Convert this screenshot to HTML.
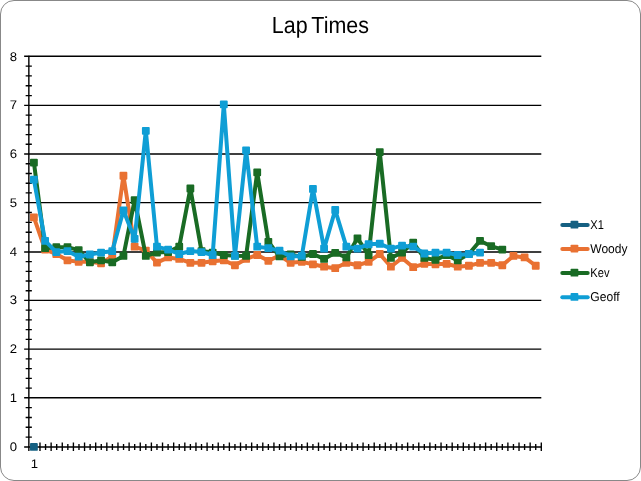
<!DOCTYPE html>
<html lang="en"><head><meta charset="utf-8"><title>Lap Times</title>
<style>html,body{margin:0;padding:0;background:#fff}body{width:641px;height:481px;overflow:hidden}svg{display:block}text{font-family:"Liberation Sans",sans-serif;fill:#000;text-rendering:geometricPrecision}</style>
</head><body>
<svg width="641" height="481" viewBox="0 0 641 481">
<rect x="0" y="0" width="641" height="481" fill="#fff"/>
<rect x="0.5" y="0.5" width="640" height="480" rx="13.5" ry="13.5" fill="#fff" stroke="#888888" stroke-width="1"/>
<text transform="translate(320.4 33) scale(0.9206 1)" font-size="23.3" text-anchor="middle" word-spacing="-2">Lap Times</text>
<path d="M24.15 446.95H541.30M24.15 397.80H541.30M24.15 349.10H541.30M24.15 300.41H541.30M24.15 251.97H541.30M24.15 202.66H541.30M24.15 154.00H541.30M24.15 105.40H541.30M24.15 56.30H541.30" stroke="#000" stroke-width="1.36" fill="none"/>
<path d="M28.85 55.70V450.95" stroke="#000" stroke-width="1.4" fill="none"/>
<path d="M25.65 437.12H31.85M25.65 427.29H31.85M25.65 417.46H31.85M25.65 407.63H31.85M25.65 388.06H31.85M25.65 378.32H31.85M25.65 368.58H31.85M25.65 358.84H31.85M25.65 339.36H31.85M25.65 329.62H31.85M25.65 319.89H31.85M25.65 310.15H31.85M25.65 290.72H31.85M25.65 281.03H31.85M25.65 271.35H31.85M25.65 261.66H31.85M25.65 242.11H31.85M25.65 232.25H31.85M25.65 222.38H31.85M25.65 212.52H31.85M25.65 192.93H31.85M25.65 183.20H31.85M25.65 173.46H31.85M25.65 163.73H31.85M25.65 144.28H31.85M25.65 134.56H31.85M25.65 124.84H31.85M25.65 115.12H31.85M25.65 95.58H31.85M25.65 85.76H31.85M25.65 75.94H31.85M25.65 66.12H31.85" stroke="#000" stroke-width="1.36" fill="none"/>
<path d="M39.99 442.55V450.95M34.42 443.95V449.95M51.13 442.55V450.95M45.56 443.95V449.95M62.27 442.55V450.95M56.70 443.95V449.95M73.41 442.55V450.95M67.84 443.95V449.95M84.55 442.55V450.95M78.98 443.95V449.95M95.69 442.55V450.95M90.12 443.95V449.95M106.83 442.55V450.95M101.26 443.95V449.95M117.97 442.55V450.95M112.40 443.95V449.95M129.11 442.55V450.95M123.54 443.95V449.95M140.25 442.55V450.95M134.68 443.95V449.95M151.39 442.55V450.95M145.82 443.95V449.95M162.53 442.55V450.95M156.96 443.95V449.95M173.67 442.55V450.95M168.10 443.95V449.95M184.81 442.55V450.95M179.24 443.95V449.95M195.95 442.55V450.95M190.38 443.95V449.95M207.09 442.55V450.95M201.52 443.95V449.95M218.23 442.55V450.95M212.66 443.95V449.95M229.37 442.55V450.95M223.80 443.95V449.95M240.51 442.55V450.95M234.94 443.95V449.95M251.65 442.55V450.95M246.08 443.95V449.95M262.79 442.55V450.95M257.22 443.95V449.95M273.93 442.55V450.95M268.36 443.95V449.95M285.07 442.55V450.95M279.50 443.95V449.95M296.22 442.55V450.95M290.65 443.95V449.95M307.36 442.55V450.95M301.79 443.95V449.95M318.50 442.55V450.95M312.93 443.95V449.95M329.64 442.55V450.95M324.07 443.95V449.95M340.78 442.55V450.95M335.21 443.95V449.95M351.92 442.55V450.95M346.35 443.95V449.95M363.06 442.55V450.95M357.49 443.95V449.95M374.20 442.55V450.95M368.63 443.95V449.95M385.34 442.55V450.95M379.77 443.95V449.95M396.48 442.55V450.95M390.91 443.95V449.95M407.62 442.55V450.95M402.05 443.95V449.95M418.76 442.55V450.95M413.19 443.95V449.95M429.90 442.55V450.95M424.33 443.95V449.95M441.04 442.55V450.95M435.47 443.95V449.95M452.18 442.55V450.95M446.61 443.95V449.95M463.32 442.55V450.95M457.75 443.95V449.95M474.46 442.55V450.95M468.89 443.95V449.95M485.60 442.55V450.95M480.03 443.95V449.95M496.74 442.55V450.95M491.17 443.95V449.95M507.88 442.55V450.95M502.31 443.95V449.95M519.02 442.55V450.95M513.45 443.95V449.95M530.16 442.55V450.95M524.59 443.95V449.95M541.30 442.55V450.95M535.73 443.95V449.95" stroke="#000" stroke-width="1.36" fill="none"/>
<text transform="translate(13.35 451.35) scale(1.0500 1)" font-size="12.50" text-anchor="middle">0</text>
<text transform="translate(13.35 401.70) scale(1.0500 1)" font-size="12.50" text-anchor="middle">1</text>
<text transform="translate(13.35 353.00) scale(1.0500 1)" font-size="12.50" text-anchor="middle">2</text>
<text transform="translate(13.35 304.31) scale(1.0500 1)" font-size="12.50" text-anchor="middle">3</text>
<text transform="translate(13.35 255.67) scale(1.0500 1)" font-size="12.50" text-anchor="middle">4</text>
<text transform="translate(13.35 206.56) scale(1.0500 1)" font-size="12.50" text-anchor="middle">5</text>
<text transform="translate(13.35 157.90) scale(1.0500 1)" font-size="12.50" text-anchor="middle">6</text>
<text transform="translate(13.35 109.30) scale(1.0500 1)" font-size="12.50" text-anchor="middle">7</text>
<text transform="translate(13.35 60.70) scale(1.0500 1)" font-size="12.50" text-anchor="middle">8</text>
<text transform="translate(34.30 468.10) scale(1.0500 1)" font-size="12.50" text-anchor="middle">1</text>
<path d="M30.92 443.02h6.00q0.90 0 0.90 0.90v6.00q0 0.90 -0.90 0.90h-6.00q-0.90 0 -0.90 -0.90v-6.00q0 -0.90 0.90 -0.90z" fill="#156082"/>
<polyline points="33.92,217.33 45.11,249.61 56.30,254.01 67.49,260.36 78.68,261.83 89.87,261.83 101.06,263.30 112.25,256.45 123.44,175.77 134.63,246.67 145.82,250.58 156.96,262.56 168.10,257.43 179.24,258.90 190.38,262.81 201.52,262.81 212.66,261.34 223.80,260.36 234.94,265.25 246.08,258.90 257.22,254.98 268.36,260.85 279.50,255.47 290.65,262.81 301.79,261.83 312.93,264.28 324.07,266.72 335.21,268.19 346.35,262.81 357.49,265.25 368.63,261.83 379.77,254.01 390.91,266.72 402.05,257.92 413.19,267.21 424.33,263.79 435.47,264.28 446.61,263.79 457.75,266.72 468.89,265.74 480.03,262.81 491.17,262.81 502.31,265.25 513.45,255.96 524.59,257.43 535.73,265.74" fill="none" stroke="#E97132" stroke-width="4.00" stroke-linejoin="round" stroke-linecap="round"/>
<path d="M30.92 213.43h6.00q0.90 0 0.90 0.90v6.00q0 0.90 -0.90 0.90h-6.00q-0.90 0 -0.90 -0.90v-6.00q0 -0.90 0.90 -0.90zM42.11 245.71h6.00q0.90 0 0.90 0.90v6.00q0 0.90 -0.90 0.90h-6.00q-0.90 0 -0.90 -0.90v-6.00q0 -0.90 0.90 -0.90zM53.30 250.11h6.00q0.90 0 0.90 0.90v6.00q0 0.90 -0.90 0.90h-6.00q-0.90 0 -0.90 -0.90v-6.00q0 -0.90 0.90 -0.90zM64.49 256.46h6.00q0.90 0 0.90 0.90v6.00q0 0.90 -0.90 0.90h-6.00q-0.90 0 -0.90 -0.90v-6.00q0 -0.90 0.90 -0.90zM75.68 257.93h6.00q0.90 0 0.90 0.90v6.00q0 0.90 -0.90 0.90h-6.00q-0.90 0 -0.90 -0.90v-6.00q0 -0.90 0.90 -0.90zM86.87 257.93h6.00q0.90 0 0.90 0.90v6.00q0 0.90 -0.90 0.90h-6.00q-0.90 0 -0.90 -0.90v-6.00q0 -0.90 0.90 -0.90zM98.06 259.40h6.00q0.90 0 0.90 0.90v6.00q0 0.90 -0.90 0.90h-6.00q-0.90 0 -0.90 -0.90v-6.00q0 -0.90 0.90 -0.90zM109.25 252.55h6.00q0.90 0 0.90 0.90v6.00q0 0.90 -0.90 0.90h-6.00q-0.90 0 -0.90 -0.90v-6.00q0 -0.90 0.90 -0.90zM120.44 171.87h6.00q0.90 0 0.90 0.90v6.00q0 0.90 -0.90 0.90h-6.00q-0.90 0 -0.90 -0.90v-6.00q0 -0.90 0.90 -0.90zM131.63 242.77h6.00q0.90 0 0.90 0.90v6.00q0 0.90 -0.90 0.90h-6.00q-0.90 0 -0.90 -0.90v-6.00q0 -0.90 0.90 -0.90zM142.82 246.68h6.00q0.90 0 0.90 0.90v6.00q0 0.90 -0.90 0.90h-6.00q-0.90 0 -0.90 -0.90v-6.00q0 -0.90 0.90 -0.90zM153.96 258.66h6.00q0.90 0 0.90 0.90v6.00q0 0.90 -0.90 0.90h-6.00q-0.90 0 -0.90 -0.90v-6.00q0 -0.90 0.90 -0.90zM165.10 253.53h6.00q0.90 0 0.90 0.90v6.00q0 0.90 -0.90 0.90h-6.00q-0.90 0 -0.90 -0.90v-6.00q0 -0.90 0.90 -0.90zM176.24 255.00h6.00q0.90 0 0.90 0.90v6.00q0 0.90 -0.90 0.90h-6.00q-0.90 0 -0.90 -0.90v-6.00q0 -0.90 0.90 -0.90zM187.38 258.91h6.00q0.90 0 0.90 0.90v6.00q0 0.90 -0.90 0.90h-6.00q-0.90 0 -0.90 -0.90v-6.00q0 -0.90 0.90 -0.90zM198.52 258.91h6.00q0.90 0 0.90 0.90v6.00q0 0.90 -0.90 0.90h-6.00q-0.90 0 -0.90 -0.90v-6.00q0 -0.90 0.90 -0.90zM209.66 257.44h6.00q0.90 0 0.90 0.90v6.00q0 0.90 -0.90 0.90h-6.00q-0.90 0 -0.90 -0.90v-6.00q0 -0.90 0.90 -0.90zM220.80 256.46h6.00q0.90 0 0.90 0.90v6.00q0 0.90 -0.90 0.90h-6.00q-0.90 0 -0.90 -0.90v-6.00q0 -0.90 0.90 -0.90zM231.94 261.35h6.00q0.90 0 0.90 0.90v6.00q0 0.90 -0.90 0.90h-6.00q-0.90 0 -0.90 -0.90v-6.00q0 -0.90 0.90 -0.90zM243.08 255.00h6.00q0.90 0 0.90 0.90v6.00q0 0.90 -0.90 0.90h-6.00q-0.90 0 -0.90 -0.90v-6.00q0 -0.90 0.90 -0.90zM254.22 251.08h6.00q0.90 0 0.90 0.90v6.00q0 0.90 -0.90 0.90h-6.00q-0.90 0 -0.90 -0.90v-6.00q0 -0.90 0.90 -0.90zM265.36 256.95h6.00q0.90 0 0.90 0.90v6.00q0 0.90 -0.90 0.90h-6.00q-0.90 0 -0.90 -0.90v-6.00q0 -0.90 0.90 -0.90zM276.50 251.57h6.00q0.90 0 0.90 0.90v6.00q0 0.90 -0.90 0.90h-6.00q-0.90 0 -0.90 -0.90v-6.00q0 -0.90 0.90 -0.90zM287.65 258.91h6.00q0.90 0 0.90 0.90v6.00q0 0.90 -0.90 0.90h-6.00q-0.90 0 -0.90 -0.90v-6.00q0 -0.90 0.90 -0.90zM298.79 257.93h6.00q0.90 0 0.90 0.90v6.00q0 0.90 -0.90 0.90h-6.00q-0.90 0 -0.90 -0.90v-6.00q0 -0.90 0.90 -0.90zM309.93 260.38h6.00q0.90 0 0.90 0.90v6.00q0 0.90 -0.90 0.90h-6.00q-0.90 0 -0.90 -0.90v-6.00q0 -0.90 0.90 -0.90zM321.07 262.82h6.00q0.90 0 0.90 0.90v6.00q0 0.90 -0.90 0.90h-6.00q-0.90 0 -0.90 -0.90v-6.00q0 -0.90 0.90 -0.90zM332.21 264.29h6.00q0.90 0 0.90 0.90v6.00q0 0.90 -0.90 0.90h-6.00q-0.90 0 -0.90 -0.90v-6.00q0 -0.90 0.90 -0.90zM343.35 258.91h6.00q0.90 0 0.90 0.90v6.00q0 0.90 -0.90 0.90h-6.00q-0.90 0 -0.90 -0.90v-6.00q0 -0.90 0.90 -0.90zM354.49 261.35h6.00q0.90 0 0.90 0.90v6.00q0 0.90 -0.90 0.90h-6.00q-0.90 0 -0.90 -0.90v-6.00q0 -0.90 0.90 -0.90zM365.63 257.93h6.00q0.90 0 0.90 0.90v6.00q0 0.90 -0.90 0.90h-6.00q-0.90 0 -0.90 -0.90v-6.00q0 -0.90 0.90 -0.90zM376.77 250.11h6.00q0.90 0 0.90 0.90v6.00q0 0.90 -0.90 0.90h-6.00q-0.90 0 -0.90 -0.90v-6.00q0 -0.90 0.90 -0.90zM387.91 262.82h6.00q0.90 0 0.90 0.90v6.00q0 0.90 -0.90 0.90h-6.00q-0.90 0 -0.90 -0.90v-6.00q0 -0.90 0.90 -0.90zM399.05 254.02h6.00q0.90 0 0.90 0.90v6.00q0 0.90 -0.90 0.90h-6.00q-0.90 0 -0.90 -0.90v-6.00q0 -0.90 0.90 -0.90zM410.19 263.31h6.00q0.90 0 0.90 0.90v6.00q0 0.90 -0.90 0.90h-6.00q-0.90 0 -0.90 -0.90v-6.00q0 -0.90 0.90 -0.90zM421.33 259.89h6.00q0.90 0 0.90 0.90v6.00q0 0.90 -0.90 0.90h-6.00q-0.90 0 -0.90 -0.90v-6.00q0 -0.90 0.90 -0.90zM432.47 260.38h6.00q0.90 0 0.90 0.90v6.00q0 0.90 -0.90 0.90h-6.00q-0.90 0 -0.90 -0.90v-6.00q0 -0.90 0.90 -0.90zM443.61 259.89h6.00q0.90 0 0.90 0.90v6.00q0 0.90 -0.90 0.90h-6.00q-0.90 0 -0.90 -0.90v-6.00q0 -0.90 0.90 -0.90zM454.75 262.82h6.00q0.90 0 0.90 0.90v6.00q0 0.90 -0.90 0.90h-6.00q-0.90 0 -0.90 -0.90v-6.00q0 -0.90 0.90 -0.90zM465.89 261.84h6.00q0.90 0 0.90 0.90v6.00q0 0.90 -0.90 0.90h-6.00q-0.90 0 -0.90 -0.90v-6.00q0 -0.90 0.90 -0.90zM477.03 258.91h6.00q0.90 0 0.90 0.90v6.00q0 0.90 -0.90 0.90h-6.00q-0.90 0 -0.90 -0.90v-6.00q0 -0.90 0.90 -0.90zM488.17 258.91h6.00q0.90 0 0.90 0.90v6.00q0 0.90 -0.90 0.90h-6.00q-0.90 0 -0.90 -0.90v-6.00q0 -0.90 0.90 -0.90zM499.31 261.35h6.00q0.90 0 0.90 0.90v6.00q0 0.90 -0.90 0.90h-6.00q-0.90 0 -0.90 -0.90v-6.00q0 -0.90 0.90 -0.90zM510.45 252.06h6.00q0.90 0 0.90 0.90v6.00q0 0.90 -0.90 0.90h-6.00q-0.90 0 -0.90 -0.90v-6.00q0 -0.90 0.90 -0.90zM521.59 253.53h6.00q0.90 0 0.90 0.90v6.00q0 0.90 -0.90 0.90h-6.00q-0.90 0 -0.90 -0.90v-6.00q0 -0.90 0.90 -0.90zM532.73 261.84h6.00q0.90 0 0.90 0.90v6.00q0 0.90 -0.90 0.90h-6.00q-0.90 0 -0.90 -0.90v-6.00q0 -0.90 0.90 -0.90z" fill="#E97132"/>
<polyline points="33.92,162.56 45.11,248.14 56.30,247.16 67.49,247.16 78.68,250.09 89.87,262.32 101.06,260.36 112.25,262.32 123.44,255.96 134.63,200.22 145.82,255.96 156.96,252.54 168.10,252.05 179.24,246.67 190.38,188.48 201.52,251.07 212.66,252.54 223.80,254.98 234.94,255.72 246.08,255.96 257.22,172.34 268.36,241.78 279.50,256.45 290.65,254.50 301.79,256.94 312.93,254.01 324.07,258.90 335.21,252.78 346.35,257.43 357.49,238.36 368.63,254.98 379.77,152.05 390.91,257.92 402.05,252.54 413.19,242.76 424.33,257.92 435.47,259.87 446.61,254.98 457.75,260.36 468.89,254.01 480.03,240.80 491.17,246.18 502.31,249.61" fill="none" stroke="#196B24" stroke-width="4.00" stroke-linejoin="round" stroke-linecap="round"/>
<path d="M30.92 158.66h6.00q0.90 0 0.90 0.90v6.00q0 0.90 -0.90 0.90h-6.00q-0.90 0 -0.90 -0.90v-6.00q0 -0.90 0.90 -0.90zM42.11 244.24h6.00q0.90 0 0.90 0.90v6.00q0 0.90 -0.90 0.90h-6.00q-0.90 0 -0.90 -0.90v-6.00q0 -0.90 0.90 -0.90zM53.30 243.26h6.00q0.90 0 0.90 0.90v6.00q0 0.90 -0.90 0.90h-6.00q-0.90 0 -0.90 -0.90v-6.00q0 -0.90 0.90 -0.90zM64.49 243.26h6.00q0.90 0 0.90 0.90v6.00q0 0.90 -0.90 0.90h-6.00q-0.90 0 -0.90 -0.90v-6.00q0 -0.90 0.90 -0.90zM75.68 246.19h6.00q0.90 0 0.90 0.90v6.00q0 0.90 -0.90 0.90h-6.00q-0.90 0 -0.90 -0.90v-6.00q0 -0.90 0.90 -0.90zM86.87 258.42h6.00q0.90 0 0.90 0.90v6.00q0 0.90 -0.90 0.90h-6.00q-0.90 0 -0.90 -0.90v-6.00q0 -0.90 0.90 -0.90zM98.06 256.46h6.00q0.90 0 0.90 0.90v6.00q0 0.90 -0.90 0.90h-6.00q-0.90 0 -0.90 -0.90v-6.00q0 -0.90 0.90 -0.90zM109.25 258.42h6.00q0.90 0 0.90 0.90v6.00q0 0.90 -0.90 0.90h-6.00q-0.90 0 -0.90 -0.90v-6.00q0 -0.90 0.90 -0.90zM120.44 252.06h6.00q0.90 0 0.90 0.90v6.00q0 0.90 -0.90 0.90h-6.00q-0.90 0 -0.90 -0.90v-6.00q0 -0.90 0.90 -0.90zM131.63 196.32h6.00q0.90 0 0.90 0.90v6.00q0 0.90 -0.90 0.90h-6.00q-0.90 0 -0.90 -0.90v-6.00q0 -0.90 0.90 -0.90zM142.82 252.06h6.00q0.90 0 0.90 0.90v6.00q0 0.90 -0.90 0.90h-6.00q-0.90 0 -0.90 -0.90v-6.00q0 -0.90 0.90 -0.90zM153.96 248.64h6.00q0.90 0 0.90 0.90v6.00q0 0.90 -0.90 0.90h-6.00q-0.90 0 -0.90 -0.90v-6.00q0 -0.90 0.90 -0.90zM165.10 248.15h6.00q0.90 0 0.90 0.90v6.00q0 0.90 -0.90 0.90h-6.00q-0.90 0 -0.90 -0.90v-6.00q0 -0.90 0.90 -0.90zM176.24 242.77h6.00q0.90 0 0.90 0.90v6.00q0 0.90 -0.90 0.90h-6.00q-0.90 0 -0.90 -0.90v-6.00q0 -0.90 0.90 -0.90zM187.38 184.58h6.00q0.90 0 0.90 0.90v6.00q0 0.90 -0.90 0.90h-6.00q-0.90 0 -0.90 -0.90v-6.00q0 -0.90 0.90 -0.90zM198.52 247.17h6.00q0.90 0 0.90 0.90v6.00q0 0.90 -0.90 0.90h-6.00q-0.90 0 -0.90 -0.90v-6.00q0 -0.90 0.90 -0.90zM209.66 248.64h6.00q0.90 0 0.90 0.90v6.00q0 0.90 -0.90 0.90h-6.00q-0.90 0 -0.90 -0.90v-6.00q0 -0.90 0.90 -0.90zM220.80 251.08h6.00q0.90 0 0.90 0.90v6.00q0 0.90 -0.90 0.90h-6.00q-0.90 0 -0.90 -0.90v-6.00q0 -0.90 0.90 -0.90zM231.94 251.82h6.00q0.90 0 0.90 0.90v6.00q0 0.90 -0.90 0.90h-6.00q-0.90 0 -0.90 -0.90v-6.00q0 -0.90 0.90 -0.90zM243.08 252.06h6.00q0.90 0 0.90 0.90v6.00q0 0.90 -0.90 0.90h-6.00q-0.90 0 -0.90 -0.90v-6.00q0 -0.90 0.90 -0.90zM254.22 168.44h6.00q0.90 0 0.90 0.90v6.00q0 0.90 -0.90 0.90h-6.00q-0.90 0 -0.90 -0.90v-6.00q0 -0.90 0.90 -0.90zM265.36 237.88h6.00q0.90 0 0.90 0.90v6.00q0 0.90 -0.90 0.90h-6.00q-0.90 0 -0.90 -0.90v-6.00q0 -0.90 0.90 -0.90zM276.50 252.55h6.00q0.90 0 0.90 0.90v6.00q0 0.90 -0.90 0.90h-6.00q-0.90 0 -0.90 -0.90v-6.00q0 -0.90 0.90 -0.90zM287.65 250.59h6.00q0.90 0 0.90 0.90v6.00q0 0.90 -0.90 0.90h-6.00q-0.90 0 -0.90 -0.90v-6.00q0 -0.90 0.90 -0.90zM298.79 253.04h6.00q0.90 0 0.90 0.90v6.00q0 0.90 -0.90 0.90h-6.00q-0.90 0 -0.90 -0.90v-6.00q0 -0.90 0.90 -0.90zM309.93 250.11h6.00q0.90 0 0.90 0.90v6.00q0 0.90 -0.90 0.90h-6.00q-0.90 0 -0.90 -0.90v-6.00q0 -0.90 0.90 -0.90zM321.07 255.00h6.00q0.90 0 0.90 0.90v6.00q0 0.90 -0.90 0.90h-6.00q-0.90 0 -0.90 -0.90v-6.00q0 -0.90 0.90 -0.90zM332.21 248.88h6.00q0.90 0 0.90 0.90v6.00q0 0.90 -0.90 0.90h-6.00q-0.90 0 -0.90 -0.90v-6.00q0 -0.90 0.90 -0.90zM343.35 253.53h6.00q0.90 0 0.90 0.90v6.00q0 0.90 -0.90 0.90h-6.00q-0.90 0 -0.90 -0.90v-6.00q0 -0.90 0.90 -0.90zM354.49 234.46h6.00q0.90 0 0.90 0.90v6.00q0 0.90 -0.90 0.90h-6.00q-0.90 0 -0.90 -0.90v-6.00q0 -0.90 0.90 -0.90zM365.63 251.08h6.00q0.90 0 0.90 0.90v6.00q0 0.90 -0.90 0.90h-6.00q-0.90 0 -0.90 -0.90v-6.00q0 -0.90 0.90 -0.90zM376.77 148.15h6.00q0.90 0 0.90 0.90v6.00q0 0.90 -0.90 0.90h-6.00q-0.90 0 -0.90 -0.90v-6.00q0 -0.90 0.90 -0.90zM387.91 254.02h6.00q0.90 0 0.90 0.90v6.00q0 0.90 -0.90 0.90h-6.00q-0.90 0 -0.90 -0.90v-6.00q0 -0.90 0.90 -0.90zM399.05 248.64h6.00q0.90 0 0.90 0.90v6.00q0 0.90 -0.90 0.90h-6.00q-0.90 0 -0.90 -0.90v-6.00q0 -0.90 0.90 -0.90zM410.19 238.86h6.00q0.90 0 0.90 0.90v6.00q0 0.90 -0.90 0.90h-6.00q-0.90 0 -0.90 -0.90v-6.00q0 -0.90 0.90 -0.90zM421.33 254.02h6.00q0.90 0 0.90 0.90v6.00q0 0.90 -0.90 0.90h-6.00q-0.90 0 -0.90 -0.90v-6.00q0 -0.90 0.90 -0.90zM432.47 255.97h6.00q0.90 0 0.90 0.90v6.00q0 0.90 -0.90 0.90h-6.00q-0.90 0 -0.90 -0.90v-6.00q0 -0.90 0.90 -0.90zM443.61 251.08h6.00q0.90 0 0.90 0.90v6.00q0 0.90 -0.90 0.90h-6.00q-0.90 0 -0.90 -0.90v-6.00q0 -0.90 0.90 -0.90zM454.75 256.46h6.00q0.90 0 0.90 0.90v6.00q0 0.90 -0.90 0.90h-6.00q-0.90 0 -0.90 -0.90v-6.00q0 -0.90 0.90 -0.90zM465.89 250.11h6.00q0.90 0 0.90 0.90v6.00q0 0.90 -0.90 0.90h-6.00q-0.90 0 -0.90 -0.90v-6.00q0 -0.90 0.90 -0.90zM477.03 236.90h6.00q0.90 0 0.90 0.90v6.00q0 0.90 -0.90 0.90h-6.00q-0.90 0 -0.90 -0.90v-6.00q0 -0.90 0.90 -0.90zM488.17 242.28h6.00q0.90 0 0.90 0.90v6.00q0 0.90 -0.90 0.90h-6.00q-0.90 0 -0.90 -0.90v-6.00q0 -0.90 0.90 -0.90zM499.31 245.71h6.00q0.90 0 0.90 0.90v6.00q0 0.90 -0.90 0.90h-6.00q-0.90 0 -0.90 -0.90v-6.00q0 -0.90 0.90 -0.90z" fill="#196B24"/>
<polyline points="33.92,179.68 45.11,240.80 56.30,252.05 67.49,251.07 78.68,256.70 89.87,254.50 101.06,252.54 112.25,251.17 123.44,210.49 134.63,238.85 145.82,130.78 156.96,246.67 168.10,249.61 179.24,254.01 190.38,251.07 201.52,252.05 212.66,254.98 223.80,104.37 234.94,255.96 246.08,150.34 257.22,246.67 268.36,248.14 279.50,250.58 290.65,256.45 301.79,255.96 312.93,188.97 324.07,248.63 335.21,210.00 346.35,246.67 357.49,248.63 368.63,244.23 379.77,243.74 390.91,248.63 402.05,245.69 413.19,246.67 424.33,253.52 435.47,252.54 446.61,252.54 457.75,254.98 468.89,254.01 480.03,252.54" fill="none" stroke="#0F9ED5" stroke-width="4.00" stroke-linejoin="round" stroke-linecap="round"/>
<path d="M30.92 175.78h6.00q0.90 0 0.90 0.90v6.00q0 0.90 -0.90 0.90h-6.00q-0.90 0 -0.90 -0.90v-6.00q0 -0.90 0.90 -0.90zM42.11 236.90h6.00q0.90 0 0.90 0.90v6.00q0 0.90 -0.90 0.90h-6.00q-0.90 0 -0.90 -0.90v-6.00q0 -0.90 0.90 -0.90zM53.30 248.15h6.00q0.90 0 0.90 0.90v6.00q0 0.90 -0.90 0.90h-6.00q-0.90 0 -0.90 -0.90v-6.00q0 -0.90 0.90 -0.90zM64.49 247.17h6.00q0.90 0 0.90 0.90v6.00q0 0.90 -0.90 0.90h-6.00q-0.90 0 -0.90 -0.90v-6.00q0 -0.90 0.90 -0.90zM75.68 252.80h6.00q0.90 0 0.90 0.90v6.00q0 0.90 -0.90 0.90h-6.00q-0.90 0 -0.90 -0.90v-6.00q0 -0.90 0.90 -0.90zM86.87 250.59h6.00q0.90 0 0.90 0.90v6.00q0 0.90 -0.90 0.90h-6.00q-0.90 0 -0.90 -0.90v-6.00q0 -0.90 0.90 -0.90zM98.06 248.64h6.00q0.90 0 0.90 0.90v6.00q0 0.90 -0.90 0.90h-6.00q-0.90 0 -0.90 -0.90v-6.00q0 -0.90 0.90 -0.90zM109.25 247.27h6.00q0.90 0 0.90 0.90v6.00q0 0.90 -0.90 0.90h-6.00q-0.90 0 -0.90 -0.90v-6.00q0 -0.90 0.90 -0.90zM120.44 206.59h6.00q0.90 0 0.90 0.90v6.00q0 0.90 -0.90 0.90h-6.00q-0.90 0 -0.90 -0.90v-6.00q0 -0.90 0.90 -0.90zM131.63 234.95h6.00q0.90 0 0.90 0.90v6.00q0 0.90 -0.90 0.90h-6.00q-0.90 0 -0.90 -0.90v-6.00q0 -0.90 0.90 -0.90zM142.82 126.88h6.00q0.90 0 0.90 0.90v6.00q0 0.90 -0.90 0.90h-6.00q-0.90 0 -0.90 -0.90v-6.00q0 -0.90 0.90 -0.90zM153.96 242.77h6.00q0.90 0 0.90 0.90v6.00q0 0.90 -0.90 0.90h-6.00q-0.90 0 -0.90 -0.90v-6.00q0 -0.90 0.90 -0.90zM165.10 245.71h6.00q0.90 0 0.90 0.90v6.00q0 0.90 -0.90 0.90h-6.00q-0.90 0 -0.90 -0.90v-6.00q0 -0.90 0.90 -0.90zM176.24 250.11h6.00q0.90 0 0.90 0.90v6.00q0 0.90 -0.90 0.90h-6.00q-0.90 0 -0.90 -0.90v-6.00q0 -0.90 0.90 -0.90zM187.38 247.17h6.00q0.90 0 0.90 0.90v6.00q0 0.90 -0.90 0.90h-6.00q-0.90 0 -0.90 -0.90v-6.00q0 -0.90 0.90 -0.90zM198.52 248.15h6.00q0.90 0 0.90 0.90v6.00q0 0.90 -0.90 0.90h-6.00q-0.90 0 -0.90 -0.90v-6.00q0 -0.90 0.90 -0.90zM209.66 251.08h6.00q0.90 0 0.90 0.90v6.00q0 0.90 -0.90 0.90h-6.00q-0.90 0 -0.90 -0.90v-6.00q0 -0.90 0.90 -0.90zM220.80 100.47h6.00q0.90 0 0.90 0.90v6.00q0 0.90 -0.90 0.90h-6.00q-0.90 0 -0.90 -0.90v-6.00q0 -0.90 0.90 -0.90zM231.94 252.06h6.00q0.90 0 0.90 0.90v6.00q0 0.90 -0.90 0.90h-6.00q-0.90 0 -0.90 -0.90v-6.00q0 -0.90 0.90 -0.90zM243.08 146.44h6.00q0.90 0 0.90 0.90v6.00q0 0.90 -0.90 0.90h-6.00q-0.90 0 -0.90 -0.90v-6.00q0 -0.90 0.90 -0.90zM254.22 242.77h6.00q0.90 0 0.90 0.90v6.00q0 0.90 -0.90 0.90h-6.00q-0.90 0 -0.90 -0.90v-6.00q0 -0.90 0.90 -0.90zM265.36 244.24h6.00q0.90 0 0.90 0.90v6.00q0 0.90 -0.90 0.90h-6.00q-0.90 0 -0.90 -0.90v-6.00q0 -0.90 0.90 -0.90zM276.50 246.68h6.00q0.90 0 0.90 0.90v6.00q0 0.90 -0.90 0.90h-6.00q-0.90 0 -0.90 -0.90v-6.00q0 -0.90 0.90 -0.90zM287.65 252.55h6.00q0.90 0 0.90 0.90v6.00q0 0.90 -0.90 0.90h-6.00q-0.90 0 -0.90 -0.90v-6.00q0 -0.90 0.90 -0.90zM298.79 252.06h6.00q0.90 0 0.90 0.90v6.00q0 0.90 -0.90 0.90h-6.00q-0.90 0 -0.90 -0.90v-6.00q0 -0.90 0.90 -0.90zM309.93 185.07h6.00q0.90 0 0.90 0.90v6.00q0 0.90 -0.90 0.90h-6.00q-0.90 0 -0.90 -0.90v-6.00q0 -0.90 0.90 -0.90zM321.07 244.73h6.00q0.90 0 0.90 0.90v6.00q0 0.90 -0.90 0.90h-6.00q-0.90 0 -0.90 -0.90v-6.00q0 -0.90 0.90 -0.90zM332.21 206.10h6.00q0.90 0 0.90 0.90v6.00q0 0.90 -0.90 0.90h-6.00q-0.90 0 -0.90 -0.90v-6.00q0 -0.90 0.90 -0.90zM343.35 242.77h6.00q0.90 0 0.90 0.90v6.00q0 0.90 -0.90 0.90h-6.00q-0.90 0 -0.90 -0.90v-6.00q0 -0.90 0.90 -0.90zM354.49 244.73h6.00q0.90 0 0.90 0.90v6.00q0 0.90 -0.90 0.90h-6.00q-0.90 0 -0.90 -0.90v-6.00q0 -0.90 0.90 -0.90zM365.63 240.33h6.00q0.90 0 0.90 0.90v6.00q0 0.90 -0.90 0.90h-6.00q-0.90 0 -0.90 -0.90v-6.00q0 -0.90 0.90 -0.90zM376.77 239.84h6.00q0.90 0 0.90 0.90v6.00q0 0.90 -0.90 0.90h-6.00q-0.90 0 -0.90 -0.90v-6.00q0 -0.90 0.90 -0.90zM387.91 244.73h6.00q0.90 0 0.90 0.90v6.00q0 0.90 -0.90 0.90h-6.00q-0.90 0 -0.90 -0.90v-6.00q0 -0.90 0.90 -0.90zM399.05 241.79h6.00q0.90 0 0.90 0.90v6.00q0 0.90 -0.90 0.90h-6.00q-0.90 0 -0.90 -0.90v-6.00q0 -0.90 0.90 -0.90zM410.19 242.77h6.00q0.90 0 0.90 0.90v6.00q0 0.90 -0.90 0.90h-6.00q-0.90 0 -0.90 -0.90v-6.00q0 -0.90 0.90 -0.90zM421.33 249.62h6.00q0.90 0 0.90 0.90v6.00q0 0.90 -0.90 0.90h-6.00q-0.90 0 -0.90 -0.90v-6.00q0 -0.90 0.90 -0.90zM432.47 248.64h6.00q0.90 0 0.90 0.90v6.00q0 0.90 -0.90 0.90h-6.00q-0.90 0 -0.90 -0.90v-6.00q0 -0.90 0.90 -0.90zM443.61 248.64h6.00q0.90 0 0.90 0.90v6.00q0 0.90 -0.90 0.90h-6.00q-0.90 0 -0.90 -0.90v-6.00q0 -0.90 0.90 -0.90zM454.75 251.08h6.00q0.90 0 0.90 0.90v6.00q0 0.90 -0.90 0.90h-6.00q-0.90 0 -0.90 -0.90v-6.00q0 -0.90 0.90 -0.90zM465.89 250.11h6.00q0.90 0 0.90 0.90v6.00q0 0.90 -0.90 0.90h-6.00q-0.90 0 -0.90 -0.90v-6.00q0 -0.90 0.90 -0.90zM477.03 248.64h6.00q0.90 0 0.90 0.90v6.00q0 0.90 -0.90 0.90h-6.00q-0.90 0 -0.90 -0.90v-6.00q0 -0.90 0.90 -0.90z" fill="#0F9ED5"/>
<path d="M562.3 225.00H587.7" stroke="#156082" stroke-width="4" stroke-linecap="round" fill="none"/>
<rect x="570.55" y="220.75" width="7.8" height="7.8" rx="0.9" fill="#156082"/>
<text transform="translate(590.30 228.80) scale(0.8650 1)" font-size="12.80" text-anchor="start">X1</text>
<path d="M562.3 248.90H587.7" stroke="#E97132" stroke-width="4" stroke-linecap="round" fill="none"/>
<rect x="570.55" y="244.65" width="7.8" height="7.8" rx="0.9" fill="#E97132"/>
<text transform="translate(590.30 252.70) scale(0.9390 1)" font-size="12.80" text-anchor="start">Woody</text>
<path d="M562.3 273.00H587.7" stroke="#196B24" stroke-width="4" stroke-linecap="round" fill="none"/>
<rect x="570.55" y="268.75" width="7.8" height="7.8" rx="0.9" fill="#196B24"/>
<text transform="translate(590.30 276.80) scale(0.8700 1)" font-size="12.80" text-anchor="start">Kev</text>
<path d="M562.3 297.30H587.7" stroke="#0F9ED5" stroke-width="4" stroke-linecap="round" fill="none"/>
<rect x="570.55" y="293.05" width="7.8" height="7.8" rx="0.9" fill="#0F9ED5"/>
<text transform="translate(590.30 301.10) scale(0.9450 1)" font-size="12.80" text-anchor="start">Geoff</text>
</svg>
</body></html>
